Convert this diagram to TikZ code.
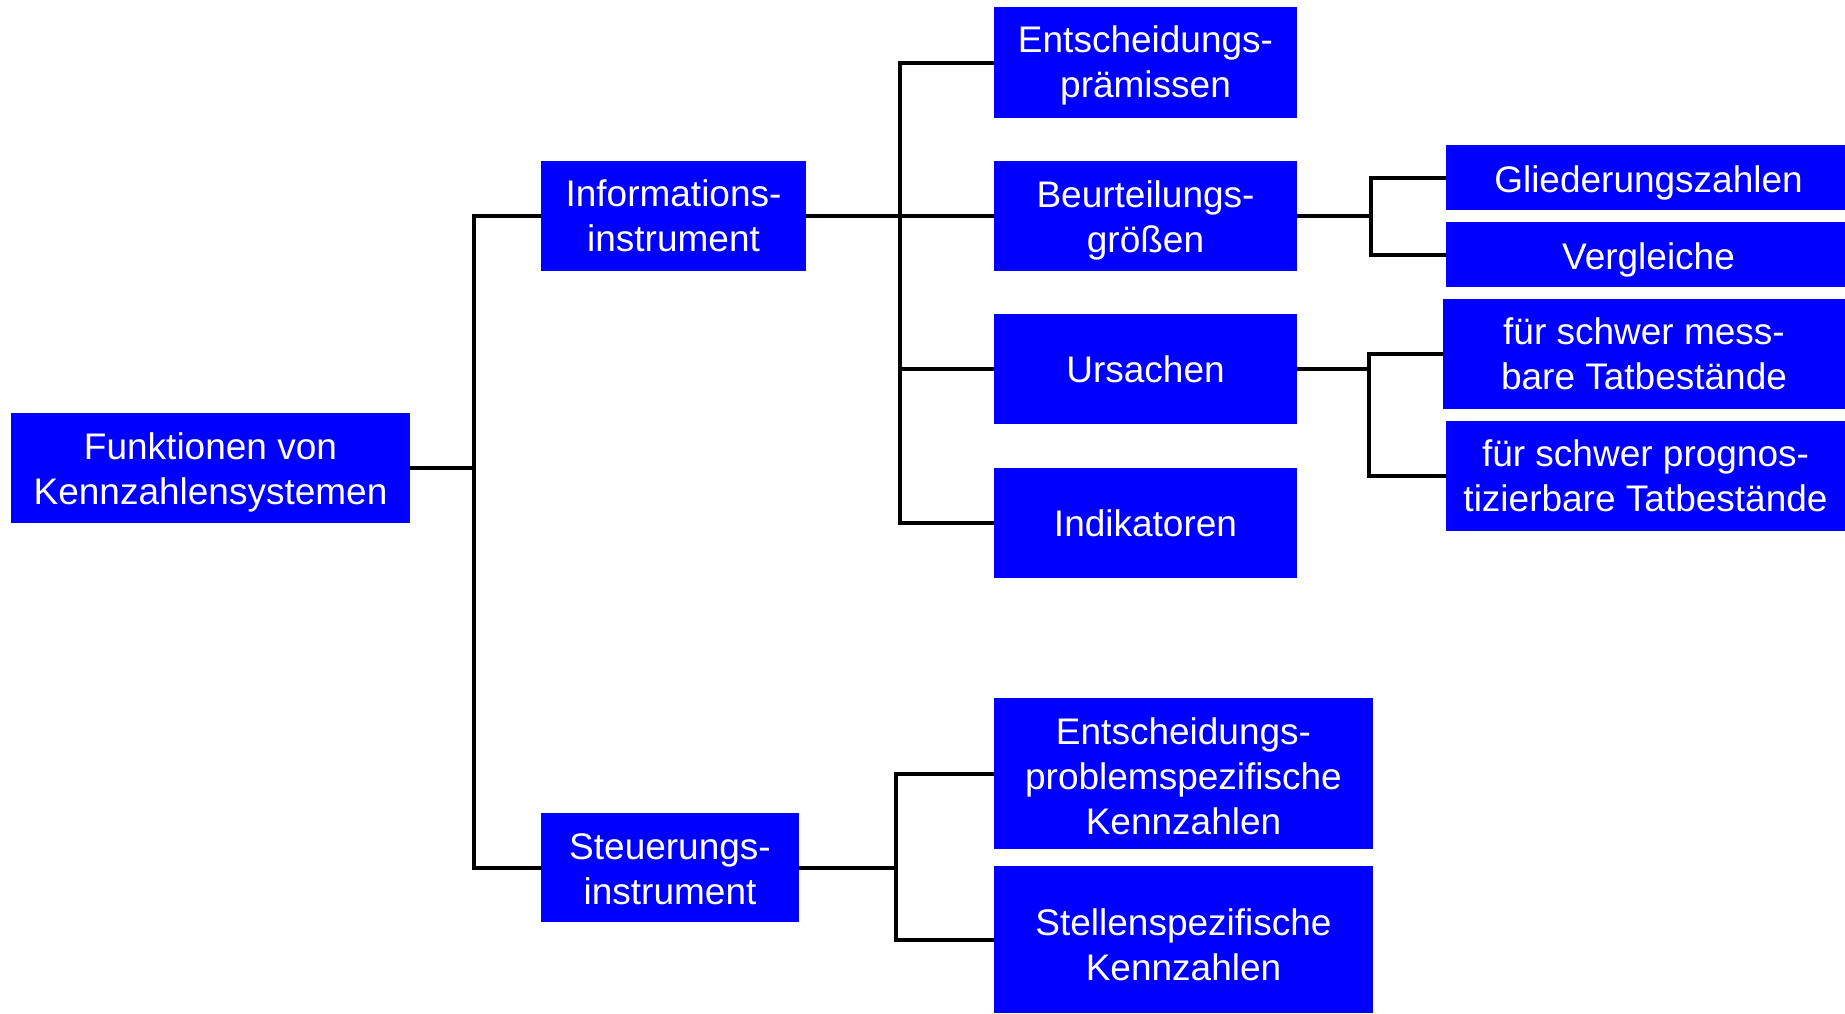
\documentclass[tikz,border=0pt]{standalone}
\usepackage{fontspec}
\setmainfont{Liberation Sans}
\definecolor{boxblue}{RGB}{0,0,255}
% box label: centred lines, lowered by #1 without changing the box size
\newcommand\bxt[2]{\raisebox{-#1}[\height][\depth]{\begin{tabular}{@{}c@{}}#2\end{tabular}}}
\begin{document}
\begin{tikzpicture}[x=0.5pt,y=-0.5pt,
  box/.style={fill=boxblue,text=white,inner sep=0pt,
    font=\fontsize{18.5}{22.5}\selectfont},
  conn/.style={draw=black,line width=2pt}]
\useasboundingbox (0,0) rectangle (1845,1013);

% level 0
\node[box,minimum width=199.5pt,minimum height=55pt] (root) at (210.5,468) {\bxt{2.4pt}{Funktionen von\\Kennzahlensystemen}};

% level 1
\node[box,minimum width=132.5pt,minimum height=55pt] (info) at (673.5,216) {\bxt{2.1pt}{Informations-\\instrument}};
\node[box,minimum width=129pt,minimum height=54.5pt] (steu) at (670,867.5) {\bxt{2.7pt}{Steuerungs-\\instrument}};

% level 2 (information)
\node[box,minimum width=151.5pt,minimum height=55.5pt] (ent) at (1145.5,62.5) {\bxt{1.8pt}{Entscheidungs-\\prämissen}};
\node[box,minimum width=151.5pt,minimum height=55pt] (beu) at (1145.5,216) {\bxt{2.3pt}{Beurteilungs-\\größen}};
\node[box,minimum width=151.5pt,minimum height=55pt] (urs) at (1145.5,369) {\bxt{2.4pt}{Ursachen}};
\node[box,minimum width=151.5pt,minimum height=55pt] (ind) at (1145.5,523) {\bxt{2.4pt}{Indikatoren}};

% level 2 (control)
\node[box,minimum width=189.5pt,minimum height=75.5pt] (epk) at (1183.5,773.5) {\bxt{3.3pt}{Entscheidungs-\\problemspezifische\\Kennzahlen}};
\node[box,minimum width=189.5pt,minimum height=73.5pt] (spk) at (1183.5,939.5) {\bxt{4.6pt}{Stellenspezifische\\Kennzahlen}};

% level 3
\node[box,minimum width=199.5pt,minimum height=32.5pt] (gli) at (1645.5,177.5) {\bxt{2.9pt}{\hspace*{3pt}Gliederungszahlen}};
\node[box,minimum width=199.5pt,minimum height=32.5pt] (ver) at (1645.5,254.5) {\bxt{2.9pt}{\hspace*{3pt}Vergleiche}};
\node[box,minimum width=201pt,minimum height=55pt] (mess) at (1644,354) {\bxt{2.1pt}{für schwer mess-\\bare Tatbestände}};
\node[box,minimum width=199.5pt,minimum height=55pt] (prog) at (1645.5,476) {\bxt{2.1pt}{für schwer prognos-\\tizierbare Tatbestände}};

% junction points
\coordinate (j1) at (474,468);
\coordinate (j2) at (900,216);
\coordinate (j3) at (1371,216);
\coordinate (j4) at (1369,369);
\coordinate (j5) at (896,867.5);

% connectors
\draw[conn] (root.east) -- (j1);
\draw[conn] (info.west) -| (j1) |- (steu.west);

\draw[conn] (info.east) -- (beu.west);
\draw[conn] (ent.west) -| (j2) |- (ind.west);
\draw[conn] (urs.west) -- (urs.west -| j2);

\draw[conn] (beu.east) -- (j3);
\draw[conn] (gli.west) -| (j3) |- (ver.west);

\draw[conn] (urs.east) -- (j4);
\draw[conn] (mess.west) -| (j4) |- (prog.west);

\draw[conn] (steu.east) -- (j5);
\draw[conn] (epk.west) -| (j5) |- (spk.west);
\end{tikzpicture}
\end{document}
